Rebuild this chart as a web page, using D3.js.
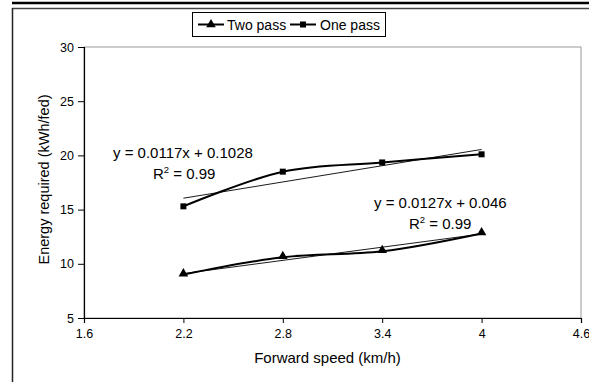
<!DOCTYPE html>
<html>
<head>
<meta charset="utf-8">
<script src="https://cdn.jsdelivr.net/npm/d3@7"></script>
<style>
  body { margin: 0; background: #fff; }
  text { font-family: "Liberation Sans", Arial, sans-serif; fill: #000; }
</style>
</head>
<body>
<div id="chart"></div>
<script>
var speeds = [2.2, 2.8, 3.4, 4];
var onePass = [15.3, 18.5, 19.35, 20.1];
var twoPass = [9.0, 10.6, 11.15, 12.8];
// linear trend ends (at 2.2 and 4)
var oneTrend = [16.05, 20.55];
var twoTrend = [9.1, 12.75];
var xTicks = [1.6, 2.2, 2.8, 3.4, 4, 4.6];
var yTicks = [5, 10, 15, 20, 25, 30];

var W = 589, H = 382;
var margin = {top: 47, right: 8, bottom: 64, left: 84},
    width = W - margin.left - margin.right,
    height = H - margin.top - margin.bottom;

var svg = d3.select("#chart").append("svg")
    .attr("width", W)
    .attr("height", H);

// page frame lines
svg.append("line").attr("x1", 12).attr("x2", W).attr("y1", 3).attr("y2", 3)
    .attr("stroke", "#000").attr("stroke-width", 2.5);
svg.append("line").attr("x1", 12).attr("x2", W).attr("y1", 8.5).attr("y2", 8.5)
    .attr("stroke", "#444").attr("stroke-width", 1.5);
svg.append("line").attr("x1", 12.5).attr("x2", 12.5).attr("y1", 8).attr("y2", H)
    .attr("stroke", "#222").attr("stroke-width", 1.5);

var g = svg.append("g")
    .attr("transform", "translate(" + margin.left + "," + margin.top + ")");

var x = d3.scaleLinear().domain([1.6, 4.6]).range([0, width]);
var y = d3.scaleLinear().domain([5, 30]).range([height, 0]);

// plot area border (top/right grey)
g.append("rect")
    .attr("x", 0).attr("y", 0)
    .attr("width", width).attr("height", height)
    .attr("fill", "none").attr("stroke", "#999").attr("stroke-width", 1);

var xAxis = g.append("g")
    .attr("transform", "translate(0," + height + ")")
    .call(d3.axisBottom(x).tickValues(xTicks).tickSize(5).tickPadding(6)
        .tickFormat(function (d) { return String(d); }));
var yAxis = g.append("g")
    .call(d3.axisLeft(y).tickValues(yTicks).tickSize(6).tickPadding(4));

[xAxis, yAxis].forEach(function (a) {
    a.select(".domain").attr("stroke", "#000").attr("stroke-width", 1.2);
    a.selectAll(".tick line").attr("stroke", "#000");
    a.selectAll(".tick text")
        .attr("font-size", 12.5)
        .style("font-family", '"Liberation Sans", Arial, sans-serif');
});

// axis titles
g.append("text")
    .attr("x", width / 2 - 5)
    .attr("y", height + 45)
    .attr("text-anchor", "middle")
    .attr("font-size", 15)
    .text("Forward speed (km/h)");

g.append("text")
    .attr("transform", "translate(" + (-40) + "," + (height / 2 - 3) + ") rotate(-90)")
    .attr("text-anchor", "middle")
    .attr("dy", "0.35em")
    .attr("font-size", 14.5)
    .text("Energy required (kWh/fed)");

// trend lines
function trend(vals) {
    return d3.line()([[x(speeds[0]), y(vals[0])], [x(speeds[speeds.length - 1]), y(vals[1])]]);
}
g.append("path").attr("d", trend(oneTrend))
    .attr("fill", "none").attr("stroke", "#000").attr("stroke-width", 0.9);
g.append("path").attr("d", trend(twoTrend))
    .attr("fill", "none").attr("stroke", "#000").attr("stroke-width", 0.9);

// smoothed series
var line = d3.line()
    .x(function (d, i) { return x(speeds[i]); })
    .y(function (d) { return y(d); })
    .curve(d3.curveCatmullRom.alpha(0.5));

g.append("path").datum(onePass).attr("d", line)
    .attr("fill", "none").attr("stroke", "#000").attr("stroke-width", 2);
g.append("path").datum(twoPass).attr("d", line)
    .attr("fill", "none").attr("stroke", "#000").attr("stroke-width", 2);

var sq = d3.symbol().type(d3.symbolSquare).size(36);
var tri = d3.symbol().type(d3.symbolTriangle).size(40);

g.selectAll(".sq").data(onePass).enter().append("path")
    .attr("d", sq)
    .attr("transform", function (d, i) { return "translate(" + x(speeds[i]) + "," + y(d) + ")"; })
    .attr("fill", "#000");
g.selectAll(".tri").data(twoPass).enter().append("path")
    .attr("d", tri)
    .attr("transform", function (d, i) { return "translate(" + x(speeds[i]) + "," + (y(d) - 1) + ")"; })
    .attr("fill", "#000");

// equations
function equation(px, py, txt) {
    g.append("text").attr("x", px).attr("y", py).attr("font-size", 15).text(txt);
}
function rsq(px, py) {
    var t = g.append("text").attr("x", px).attr("y", py).attr("font-size", 15);
    t.append("tspan").text("R");
    t.append("tspan").attr("font-size", 9.5).attr("dy", -6).text("2");
    t.append("tspan").attr("dy", 6).text(" = 0.99");
}
equation(113 - margin.left, 158 - margin.top, "y = 0.0117x + 0.1028");
rsq(153 - margin.left, 179 - margin.top);
equation(374 - margin.left, 208 - margin.top, "y = 0.0127x + 0.046");
rsq(409 - margin.left, 229 - margin.top);

// legend
var leg = svg.append("g");
leg.append("rect")
    .attr("x", 192.5).attr("y", 12.5).attr("width", 193).attr("height", 24)
    .attr("fill", "#fff").attr("stroke", "#000").attr("stroke-width", 1);
var items = [
    {name: "Two pass", sym: tri, x0: 198, tx: 227},
    {name: "One pass", sym: sq, x0: 290, tx: 320}
];
items.forEach(function (it) {
    leg.append("line").attr("x1", it.x0).attr("x2", it.x0 + 26)
        .attr("y1", 24.5).attr("y2", 24.5)
        .attr("stroke", "#000").attr("stroke-width", 2);
    leg.append("path").attr("d", it.sym)
        .attr("transform", "translate(" + (it.x0 + 13) + "," + 24.5 + ")")
        .attr("fill", "#000");
    leg.append("text").attr("x", it.tx).attr("y", 29.5)
        .attr("font-size", 14).text(it.name);
});
</script>
</body>
</html>
